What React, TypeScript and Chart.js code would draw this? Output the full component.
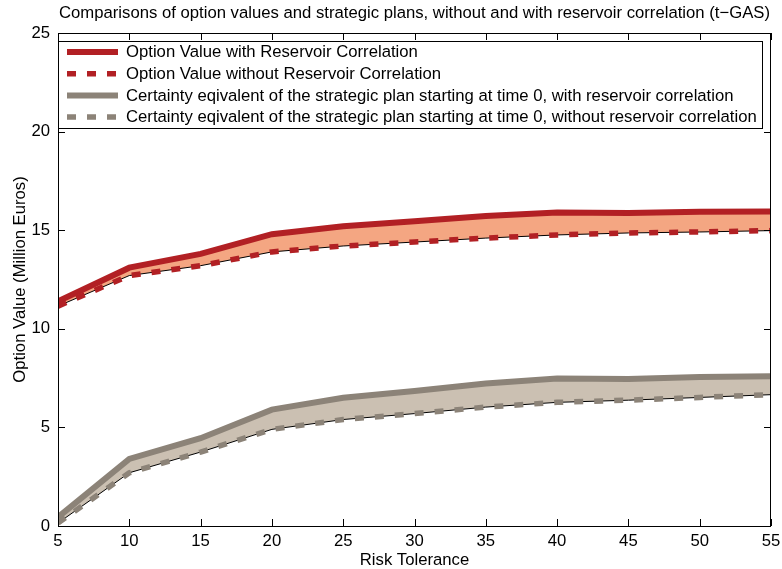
import React, { useEffect, useRef } from 'react';
import { Chart, registerables } from 'chart.js';

Chart.register(...registerables);

const riskTolerance = [5, 10, 15, 20, 25, 30, 35, 40, 45, 50, 55];
const optionWith = [11.4, 13.1, 13.8, 14.8, 15.2, 15.45, 15.72, 15.9, 15.87, 15.94, 15.95];
const optionWithout = [11.15, 12.7, 13.2, 13.9, 14.2, 14.4, 14.6, 14.76, 14.86, 14.91, 14.98];
const ceWith = [0.45, 3.4, 4.45, 5.9, 6.5, 6.85, 7.23, 7.48, 7.45, 7.56, 7.59];
const ceWithout = [0.15, 2.7, 3.75, 4.9, 5.4, 5.7, 6.03, 6.27, 6.38, 6.52, 6.66];
const xTickValues = [5, 10, 15, 20, 25, 30, 35, 40, 45, 50, 55];
const yTickValues = [0, 5, 10, 15, 20, 25];

const titleText = 'Comparisons of option values and strategic plans, without and with reservoir correlation (t\u2212GAS)';
const xTitle = 'Risk Tolerance';
const yTitle = 'Option Value (Million Euros)';
const legendLabels = [
  'Option Value with Reservoir Correlation',
  'Option Value without Reservoir Correlation',
  'Certainty eqivalent of the strategic plan starting at time 0, with reservoir correlation',
  'Certainty eqivalent of the strategic plan starting at time 0, without reservoir correlation',
];

const FONT = '"Liberation Sans", Arial, Helvetica, sans-serif';
const FS = 16.7;
const RED = 'rgb(178,32,36)';
const SALMON = 'rgb(244,166,130)';
const GRAY = 'rgb(140,131,120)';
const TAN = 'rgb(203,192,178)';

const pts = (ys: number[]) => riskTolerance.map((x, i) => ({ x, y: ys[i] }));

const framePlugin = {
  id: 'frameAndText',
  afterDraw(chart: any) {
    const { ctx, chartArea: a } = chart;
    const xs = chart.scales.x;
    const ys = chart.scales.y;
    ctx.save();
    ctx.strokeStyle = '#000';
    ctx.lineWidth = 1;
    ctx.strokeRect(Math.round(a.left) + 0.5, Math.round(a.top) + 0.5, Math.round(a.right - a.left) - 1, Math.round(a.bottom - a.top));
    const tl = 7;
    ctx.beginPath();
    xTickValues.forEach((v) => {
      const px = Math.round(xs.getPixelForValue(v)) + 0.5;
      ctx.moveTo(px, a.bottom);
      ctx.lineTo(px, a.bottom - tl);
      ctx.moveTo(px, a.top);
      ctx.lineTo(px, a.top + tl);
    });
    yTickValues.forEach((v) => {
      const py = Math.round(ys.getPixelForValue(v)) + 0.5;
      ctx.moveTo(a.left, py);
      ctx.lineTo(a.left + tl, py);
      ctx.moveTo(a.right, py);
      ctx.lineTo(a.right - tl, py);
    });
    ctx.stroke();

    // legend
    const lx = 58.5, ly = 41.5, lw = 704, lh = 87;
    ctx.fillStyle = '#fff';
    ctx.fillRect(lx, ly, lw, lh);
    ctx.strokeRect(lx, ly, lw, lh);
    const rows = chart.data.datasets.filter((d: any) => d.legendText);
    ctx.font = `${FS}px ${FONT}`;
    ctx.textBaseline = 'middle';
    ctx.textAlign = 'left';
    rows.forEach((d: any, i: number) => {
      const y = 52 + i * 21.7;
      ctx.save();
      ctx.strokeStyle = d.borderColor;
      ctx.lineWidth = d.borderWidth;
      ctx.setLineDash(d.borderDash || []);
      ctx.lineCap = 'butt';
      ctx.beginPath();
      ctx.moveTo(67, y);
      ctx.lineTo(118, y);
      ctx.stroke();
      ctx.restore();
      ctx.fillStyle = '#000';
      ctx.fillText(d.legendText, 126, y + 0.5);
    });

    // titles
    ctx.fillStyle = '#000';
    ctx.textAlign = 'center';
    ctx.font = `${FS}px ${FONT}`;
    ctx.fillText(titleText, (a.left + a.right) / 2, 13);
    ctx.fillText(xTitle, (a.left + a.right) / 2, 560);
    ctx.translate(20, (a.top + a.bottom) / 2);
    ctx.rotate(-Math.PI / 2);
    ctx.fillText(yTitle, 0, 0);
    ctx.restore();
  },
};

export default function App() {
  const ref = useRef<HTMLCanvasElement | null>(null);
  useEffect(() => {
    document.body.style.margin = '0';
    const canvas = ref.current;
    if (!canvas) return;
    const thin = { borderColor: '#000', borderWidth: 1, pointRadius: 0, fill: false, order: 2 };
    const chart = new Chart(canvas, {
      type: 'line',
      data: {
        datasets: [
          { label: 'a', legendText: legendLabels[0], data: pts(optionWith), borderColor: RED, borderWidth: 6, pointRadius: 0, fill: '+1', backgroundColor: SALMON, order: 3 } as any,
          { label: 'b', legendText: legendLabels[1], data: pts(optionWithout), borderColor: RED, borderWidth: 5.5, borderDash: [9, 11], pointRadius: 0, fill: false, order: 1 } as any,
          { label: 'c', data: pts(optionWithout), ...thin } as any,
          { label: 'd', legendText: legendLabels[2], data: pts(ceWith), borderColor: GRAY, borderWidth: 6, pointRadius: 0, fill: '+1', backgroundColor: TAN, order: 3 } as any,
          { label: 'e', legendText: legendLabels[3], data: pts(ceWithout), borderColor: GRAY, borderWidth: 5.5, borderDash: [9, 11], pointRadius: 0, fill: false, order: 1 } as any,
          { label: 'f', data: pts(ceWithout), ...thin } as any,
        ],
      },
      options: {
        animation: false,
        responsive: false,
        maintainAspectRatio: false,
        layout: { padding: { top: 33, right: 11, left: 0, bottom: 0 } },
        elements: { line: { tension: 0, borderCapStyle: 'butt', borderJoinStyle: 'miter' } },
        plugins: {
          legend: { display: false },
          tooltip: { enabled: false },
          title: { display: false },
          filler: { drawTime: 'beforeDatasetsDraw' },
        } as any,
        scales: {
          x: {
            type: 'linear',
            min: 5,
            max: 55,
            afterFit: (s: any) => { s.height = 43; s.paddingLeft = 0; s.paddingRight = 0; },
            afterBuildTicks: (s: any) => { s.ticks = xTickValues.map((v) => ({ value: v })); },
            grid: { display: false, drawTicks: false },
            border: { display: false },
            ticks: { color: '#000', padding: 5, font: { family: FONT, size: FS }, maxRotation: 0, autoSkip: false },
          },
          y: {
            type: 'linear',
            min: 0,
            max: 25,
            afterFit: (s: any) => { s.width = 58; s.paddingTop = 0; s.paddingBottom = 0; },
            afterBuildTicks: (s: any) => { s.ticks = yTickValues.map((v) => ({ value: v })); },
            grid: { display: false, drawTicks: false },
            border: { display: false },
            ticks: { color: '#000', padding: 8, font: { family: FONT, size: FS }, autoSkip: false },
          },
        },
      },
      plugins: [framePlugin],
    } as any);
    return () => chart.destroy();
  }, []);
  return (
    <div style={{ position: 'fixed', left: 0, top: 0, width: 782, height: 569 }}>
      <canvas ref={ref} width={782} height={569} style={{ width: 782, height: 569, display: 'block' }} />
    </div>
  );
}
